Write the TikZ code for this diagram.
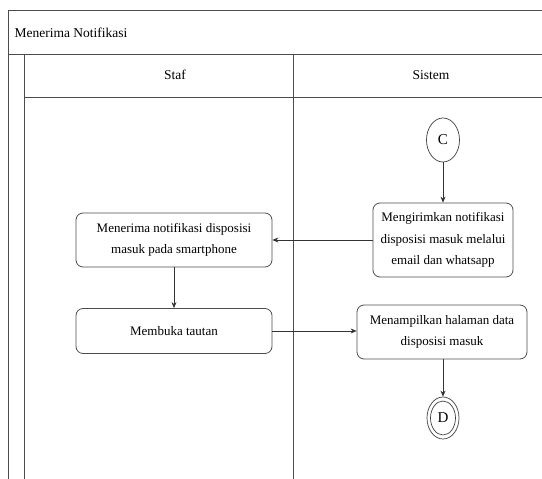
\documentclass[tikz,border=0pt]{standalone}
\usepackage{fontspec}
\setmainfont{Liberation Serif}
\usetikzlibrary{arrows.meta,shapes.geometric}
\begin{document}
\begin{tikzpicture}[x=1pt,y=-1pt,
  lane/.style={draw=black!70,line width=0.8pt},
  act/.style={draw=black!70,line width=0.8pt,rounded corners=7pt,align=center,
    font=\fontsize{13}{21.5}\selectfont,inner sep=0pt},
  conn/.style={ellipse,draw=black!75,line width=0.7pt,minimum width=33pt,minimum height=44pt,
    inner sep=0pt,font=\fontsize{15}{16}\selectfont},
  flow/.style={draw=black!80,line width=0.7pt,-{Stealth[length=6pt,width=5pt]}},
  lbl/.style={font=\fontsize{13.5}{15}\selectfont}]
\useasboundingbox (0,0) rectangle (542,479);
% pool frame and swimlanes
\draw[lane] (8,479) -- (8,10) -- (542,10);
\draw[lane] (8,54) -- (542,54);
\draw[lane] (24,479) -- (24,54);
\draw[lane] (24,97) -- (542,97);
\draw[lane] (293,54) -- (293,479);
\node[lbl,anchor=west] (pool) at (11,33) {Menerima Notifikasi};
\node[lbl] (staf) at (175,75) {Staf};
\node[lbl] (sistem) at (431,75) {Sistem};
% activities
\node[conn] (c) at (443,140) {C};
\node[act,minimum width=140pt,minimum height=74pt] (kirim) at (443,240)
  {Mengirimkan notifikasi\\disposisi masuk melalui\\email dan whatsapp};
\node[act,minimum width=196pt,minimum height=54pt] (terima) at (174,240)
  {Menerima notifikasi disposisi\\masuk pada smartphone};
\node[act,minimum width=196pt,minimum height=45pt] (buka) at (174,331)
  {Membuka tautan};
\node[act,minimum width=170pt,minimum height=54pt] (tampil) at (442,332)
  {Menampilkan halaman data\\disposisi masuk};
\node[conn,minimum width=32pt,minimum height=42pt] (d) at (443,418) {};
\node[conn,minimum width=25pt,minimum height=34pt] (dd) at (443,418) {D};
% flows
\draw[flow] (c) -- (kirim);
\draw[flow] (kirim) -- (terima);
\draw[flow] (terima) -- (buka);
\draw[flow] (buka.east) -- (tampil.west |- buka.east);
\draw[flow] (tampil.south -| d) -- (d);
\end{tikzpicture}
\end{document}
